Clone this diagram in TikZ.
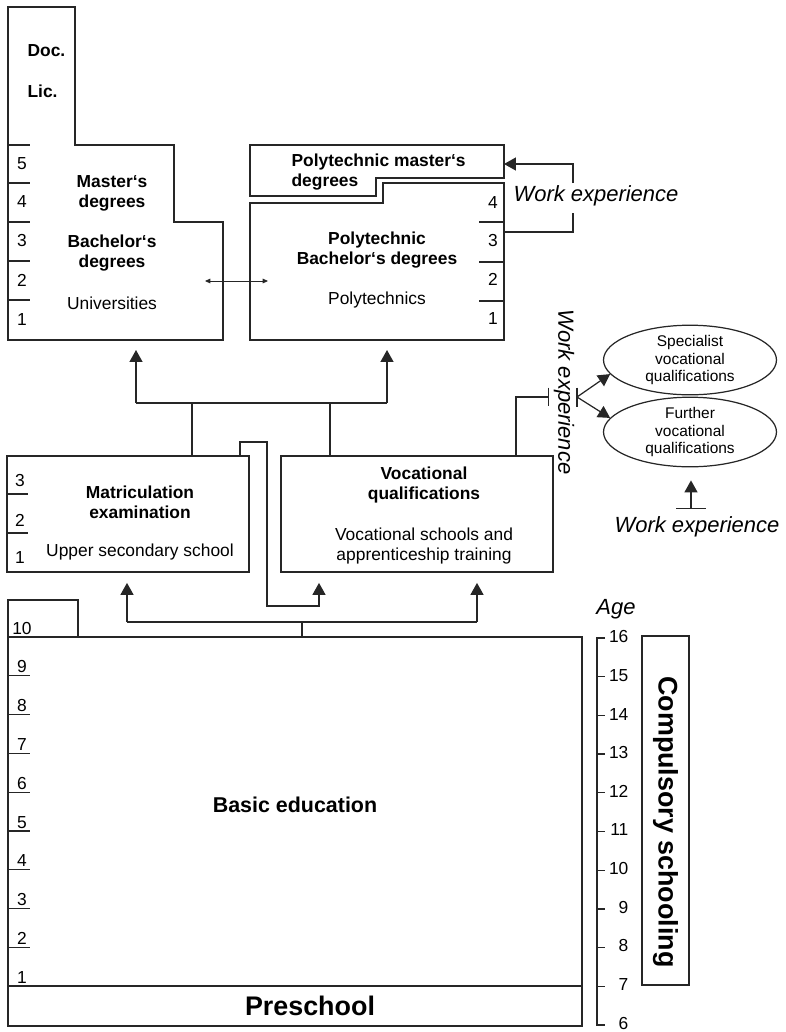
\documentclass[tikz,border=0pt]{standalone}
\usepackage{fontspec}
\setmainfont{Liberation Sans}
\usetikzlibrary{arrows.meta, positioning, calc, fit, shapes.geometric}

\begin{document}
\begin{tikzpicture}[
    x=0.02cm, y=-0.02cm,
    line width=0.7pt,
    draw=black!85,
    box/.style={draw, inner sep=0pt},
    title/.style={font=\fontsize{9.9}{11.3}\selectfont\bfseries, align=center, inner sep=0pt},
    item/.style={font=\fontsize{9.9}{11.3}\selectfont, align=center, inner sep=0pt},
    small/.style={font=\fontsize{8.8}{9.9}\selectfont, align=center, inner sep=0pt},
    big/.style={font=\fontsize{15.3}{18}\selectfont\bfseries, inner sep=0pt},
    note/.style={font=\fontsize{12.5}{15}\selectfont\itshape, inner sep=0pt},
    year/.style={font=\fontsize{9.9}{11}\selectfont, inner sep=0pt},
    oval/.style={draw, ellipse, minimum width=3.46cm, minimum height=1.34cm, inner sep=0pt, small},
    arrow/.style={-{Triangle[length=6.8pt, width=7.4pt]}},
    tiny arrow/.style={{Triangle[length=3pt, width=2.6pt]}-{Triangle[length=3pt, width=2.6pt]}, line width=0.5pt},
    bar/.style={-{Bar[width=10.8pt]}}
]
\useasboundingbox (0,0) rectangle (785,1032);

% 1. Universities (stepped outline)
\draw (8,7) -- (75,7) -- (75,145) -- (174,145) -- (174,222) -- (223,222) -- (223,340) -- (8,340) -- cycle;
\coordinate (univS) at (136,340);
\coordinate (univE) at (223,281);
\foreach \y in {145,183,222,261,300}
    \draw (8,\y) -- (30,\y);
\foreach \n/\y in {5/164,4/202,3/241,2/280,1/320}
    \node[year] (uy\n) at (22,\y) {\n};

\node[title, anchor=west] (doc) at (27,51) {Doc.};
\node[title, anchor=west] (lic) at (27,91) {Lic.};
\node[title] (master) at (112,193) {Master‘s\\degrees};
\node[title] (bachelor) at (112,253) {Bachelor‘s\\degrees};
\node[item] (univ) at (112,303) {Universities};

% 2. Polytechnics
\draw (250,145) -- (504,145) -- (504,178) -- (376,178) -- (376,196) -- (250,196) -- cycle;
\draw (250,203) -- (383,203) -- (383,183) -- (504,183) -- (504,340) -- (250,340) -- cycle;
\coordinate (polyS) at (387,340);
\coordinate (polyW) at (250,281);
\coordinate (pmE) at (504,164);
\coordinate (pbE) at (504,232);
\foreach \y in {222,262,301}
    \draw (479,\y) -- (504,\y);
\foreach \n/\y in {4/203,3/241,2/279,1/319}
    \node[year] (py\n) at (493,\y) {\n};

\node[title, align=left, anchor=west] (polymaster) at (291,172) {Polytechnic master‘s\\degrees};
\node[title] (polybach) at (377,250) {Polytechnic\\Bachelor‘s degrees};
\node[item] (poly) at (377,300) {Polytechnics};

\draw[tiny arrow] ($(univE)+(-18,0)$) -- ($(polyW)+(18,0)$);

% Work experience into master's
\node[note] (wexpP) at (596,196) {Work experience};
\coordinate (wkA) at (573,183);
\coordinate (wkB) at (573,213);
\draw[arrow] (wkA) |- (pmE);
\draw (pbE) -| (wkB);

% 3. Upper secondary level
\node[box, fit={(7,456) (249,572)}] (matric) {};
\draw (7,494) -- (28,494);
\draw (7,533) -- (28,533);
\foreach \n/\y in {3/481,2/520,1/558}
    \node[year] (my\n) at (20,\y) {\n};
\node[title] (matricT) at (140,502) {Matriculation\\examination};
\node[item] (upper) at (140,552) {Upper secondary school};

\node[box, fit={(281,456) (553,572)}] (voc) {};
\node[title] (vocT) at (424,485) {Vocational\\qualifications};
\node[item] (vocS) at (424,546) {Vocational schools and\\apprenticeship training};

% Arrows to higher education
\coordinate (upL) at (136,403);
\coordinate (upR) at (387,403);
\coordinate (m1) at (192,403);
\coordinate (v1) at (330,403);
\draw (upL) -- (upR);
\draw[arrow, shorten >=5.7pt] (upL) -- (univS);
\draw[arrow, shorten >=5.7pt] (upR) -- (polyS);
\draw (matric.north -| m1) -- (m1);
\draw (voc.north -| v1) -- (v1);

% Matriculation to vocational
\coordinate (lp1) at (240,442);
\coordinate (lp2) at (267,606);
\coordinate (vocA) at (319,572);
\draw[arrow, shorten >=6.2pt] (matric.north -| lp1) -- (lp1) -| (lp2) -| (vocA);

% Vocational to further qualifications
\node[note, rotate=-90] (wexpV) at (564,392) {Work experience};
\coordinate (vq) at (516,397);
\coordinate (barL) at (549,397);
\coordinate (fork) at (577,397);
\draw[bar] (voc.north -| vq) |- (barL);
\draw ($(fork)+(0,-9.5)$) -- ($(fork)+(0,9.5)$);
\node[oval] (spec) at (690,360) {Specialist\\vocational\\qualifications};
\node[oval] (further) at (690,432) {Further\\vocational\\qualifications};
\draw[arrow] (fork) -- (spec.190);
\draw[arrow] (fork) -- (further.170);

\node[note] (wexpB) at (697,527) {Work experience};
\coordinate (barB) at (691,509);
\draw[{Bar[width=17pt]}-{Triangle[length=6.8pt, width=7.4pt]}, shorten >=7.4pt] (barB) -- (further.south -| barB);

% 4. Basic education
\node[box, fit={(8,600) (78,637)}] (grade10) {};
\node[box, line width=1pt, fill=white, fit={(8,637) (582,986)}] (basic) {};
\node[box, fit={(8,986) (582,1026)}] (preschool) {};
\foreach \k in {2,...,9}
    \draw (8,{637+38.8*(10-\k)}) -- (30,{637+38.8*(10-\k)});
\foreach \k in {1,...,10}
    \node[year, anchor=base] (g\k) at (22,{634+38.8*(10-\k)}) {\k};
\node[big, font=\fontsize{12.2}{14}\selectfont\bfseries] (basicT) at (295,805) {Basic education};
\node[big] (preT) at (310,1006) {Preschool};

% Arrows from basic education
\coordinate (bL) at (127,622);
\coordinate (bR) at (477,622);
\coordinate (bM) at (302,622);
\coordinate (matA) at (127,572);
\coordinate (vocB) at (477,572);
\draw (bL) -- (bR);
\draw (basic.north -| bM) -- (bM);
\draw[arrow, shorten >=6.2pt] (bL) -- (matA);
\draw[arrow, shorten >=6.2pt] (bR) -- (vocB);

% 5. Age scale and compulsory schooling
\node[note] (age) at (616,609) {Age};
\draw (605,638) -- (597,638) -- (597,1025) -- (605,1025);
\foreach \a in {7,...,15}
    \draw (597,{638+38.7*(16-\a)}) -- (605,{638+38.7*(16-\a)});
\foreach \a in {6,...,16}
    \node[year, anchor=east] (age\a) at (629,{637+38.6*(16-\a)}) {\a};
\node[box, fit={(642,636) (689,985)}] (compulsory) {};
\node[big, rotate=-90] (compT) at (665.5,822) {Compulsory schooling};

\end{tikzpicture}
\end{document}
